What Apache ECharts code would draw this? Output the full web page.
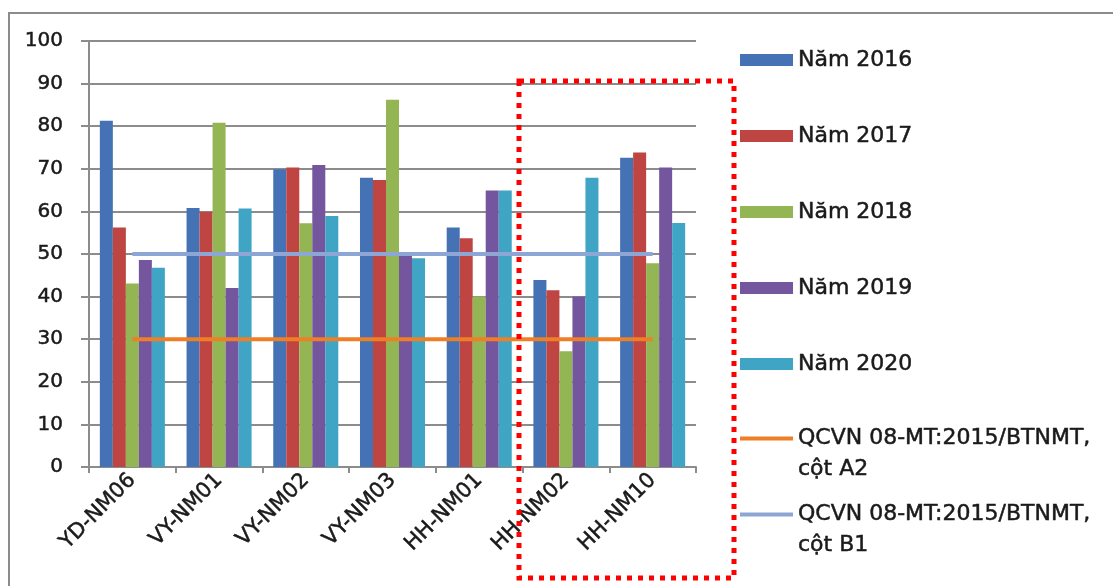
<!DOCTYPE html>
<html>
<head>
<meta charset="utf-8">
<script src="https://cdn.jsdelivr.net/npm/echarts@6/dist/echarts.min.js"></script>
<style>
  html, body { margin: 0; padding: 0; background: #ffffff; }
  #chart { width: 1113px; height: 586px; }
</style>
</head>
<body>
<div id="chart"></div>
<script>
// Monitoring stations
const categories = ['YD-NM06', 'VY-NM01', 'VY-NM02', 'VY-NM03', 'HH-NM01', 'HH-NM02', 'HH-NM10'];

// Measured values per year
const y2016 = [81.3, 60.8, 69.9, 67.9, 56.2, 43.9, 72.6];
const y2017 = [56.2, 59.9, 70.3, 67.4, 53.7, 41.5, 73.8];
const y2018 = [43.1, 80.8, 57.2, 86.2, 40.0, 27.2, 47.8];
const y2019 = [48.6, 42.0, 70.9, 50.3, 64.9, 40.0, 70.3];
const y2020 = [46.8, 60.7, 58.9, 49.0, 64.9, 67.9, 57.3];

// Standard limits (QCVN 08-MT:2015/BTNMT)
const limitA2 = 30;
const limitB1 = 50;

const yTicks = { min: 0, max: 100, interval: 10 };

const barNames = ['Năm 2016', 'Năm 2017', 'Năm 2018', 'Năm 2019', 'Năm 2020'];
const barData = [y2016, y2017, y2018, y2019, y2020];
const barColors = ['#4472B4', '#BE4541', '#93B554', '#74569E', '#40A5C4'];
const nameA2 = 'QCVN 08-MT:2015/BTNMT,\ncột A2';
const nameB1 = 'QCVN 08-MT:2015/BTNMT,\ncột B1';

const FONT = 'DejaVu Sans';
const TEXT = '#1a1a1a';
const GRIDC = '#8c8c8c';

// Slightly heavier glyphs for all chart text
const heavy = { textBorderColor: TEXT, textBorderWidth: 0.5 };

const series = barNames.map((n, i) => ({
  name: n,
  type: 'bar',
  data: barData[i],
  itemStyle: { color: barColors[i] },
  barGap: '0%',
  barCategoryGap: '25%',
  z: 2
}));

series.push({
  name: nameA2,
  type: 'line',
  data: categories.map(() => limitA2),
  symbol: 'none',
  lineStyle: { color: '#EF7F26', width: 4 },
  itemStyle: { color: '#EF7F26' },
  z: 5
});
series.push({
  name: nameB1,
  type: 'line',
  data: categories.map(() => limitB1),
  symbol: 'none',
  lineStyle: { color: '#8EA6D6', width: 4 },
  itemStyle: { color: '#8EA6D6' },
  z: 5
});

const legendText = Object.assign({ fontFamily: FONT, fontSize: 22, color: TEXT }, heavy);

// Two-line legend entries: a leading blank line keeps the first text line level with the icon
const twoLineLegend = (name, top) => ({
  data: [name],
  orient: 'vertical',
  left: 740,
  top: top,
  padding: 0,
  itemWidth: 53,
  itemHeight: 4,
  icon: 'rect',
  formatter: n => '\n' + n,
  textStyle: Object.assign({ lineHeight: 31 }, legendText)
});

const chart = echarts.init(document.getElementById('chart'), null, { renderer: 'canvas' });
chart.setOption({
  backgroundColor: '#ffffff',
  animation: false,
  grid: { left: 89, right: 417, top: 41, bottom: 119, containLabel: false },
  xAxis: {
    type: 'category',
    data: categories,
    boundaryGap: true,
    axisLine: { lineStyle: { color: GRIDC, width: 2 } },
    axisTick: { show: true, length: 6, lineStyle: { color: GRIDC, width: 2 } },
    axisLabel: Object.assign({ rotate: 45, margin: 10, fontFamily: FONT, fontSize: 21, color: TEXT }, heavy)
  },
  yAxis: {
    type: 'value',
    min: yTicks.min,
    max: yTicks.max,
    interval: yTicks.interval,
    axisLine: { show: true, lineStyle: { color: GRIDC, width: 2 } },
    axisTick: { show: true, length: 8, lineStyle: { color: GRIDC, width: 2 } },
    axisLabel: Object.assign({ margin: 26, fontFamily: FONT, fontSize: 20, color: TEXT }, heavy),
    splitLine: { show: true, lineStyle: { color: GRIDC, width: 2 } }
  },
  legend: [
    {
      data: barNames,
      orient: 'vertical',
      left: 740,
      top: 47,
      padding: 0,
      itemGap: 50,
      itemWidth: 53,
      itemHeight: 12,
      icon: 'rect',
      textStyle: Object.assign({ lineHeight: 26 }, legendText)
    },
    twoLineLegend(nameA2, 392),
    twoLineLegend(nameB1, 468)
  ],
  graphic: [
    {
      type: 'rect',
      z: 0,
      silent: true,
      shape: { x: 9, y: 13, width: 1200, height: 700 },
      style: { fill: null, stroke: GRIDC, lineWidth: 2 }
    },
    {
      type: 'rect',
      z: 100,
      silent: true,
      shape: { x: 519, y: 81, width: 215, height: 497 },
      style: { fill: null, stroke: '#FF0000', lineWidth: 5, lineDash: [5, 6] }
    }
  ],
  series: series
});
</script>
</body>
</html>
